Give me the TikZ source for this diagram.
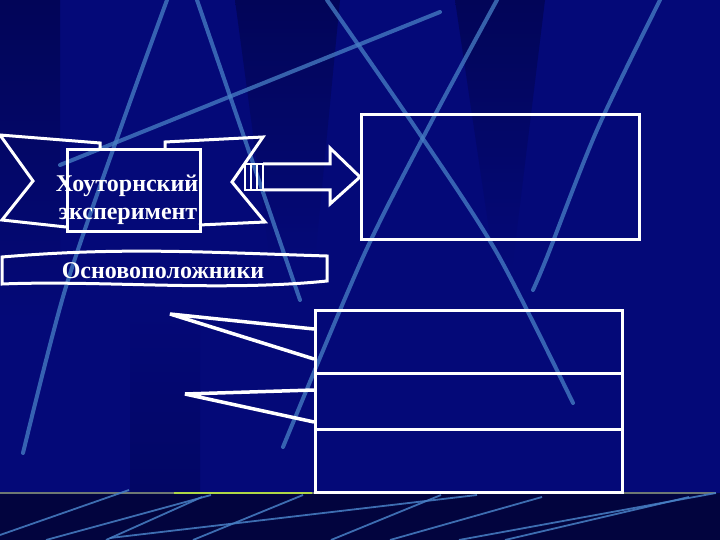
\documentclass[tikz,border=0pt]{standalone}
\usepackage{fontspec}
\setmainfont{Liberation Serif}
\usetikzlibrary{calc}
\definecolor{bgblue}{RGB}{4,9,120}
\definecolor{bgdark}{RGB}{2,5,88}
\definecolor{streak}{RGB}{72,128,198}
\definecolor{floorc}{RGB}{2,4,62}
\definecolor{floorline}{RGB}{110,120,115}
\definecolor{greenline}{RGB}{175,215,70}
\tikzset{
  wline/.style={draw=white, line width=3pt, line join=miter},
  calloutline/.style={draw=white, line width=3.5pt, line join=bevel},
  beam/.style={draw=streak, line width=4pt, opacity=0.75, line cap=round},
  floorbeam/.style={draw=streak, line width=1.8pt, opacity=0.85},
  wtext/.style={text=white, font=\bfseries\fontsize{24}{28}\selectfont, inner sep=0pt},
  framebox/.style={draw=white, line width=3pt, inner sep=0pt, anchor=north west},
}
\begin{document}
\begin{tikzpicture}[x=1pt,y=-1pt]
\useasboundingbox (0,0) rectangle (720,540);
% background
\fill[bgblue] (0,0) rectangle (720,540);
\shade[top color=bgdark, bottom color=bgblue] (0,0) rectangle (60,320);
\shade[top color=bgdark, bottom color=bgblue] (235,0) -- (340,0) -- (315,260) -- (270,260) -- cycle;
\shade[top color=bgdark, bottom color=bgblue] (455,0) -- (545,0) -- (512,270) -- (495,270) -- cycle;
\shade[top color=bgblue, bottom color=bgdark, opacity=0.6] (130,300) rectangle (200,492);
% beams
\draw[beam] plot[smooth] coordinates {(167,0) (120,130) (65,290) (23,453)};
\draw[beam] (197,0) -- (300,300);
\draw[beam] (440,12) -- (60,165);
\draw[beam] plot[smooth] coordinates {(327,0) (417,130) (497,253) (573,403)};
\draw[beam] plot[smooth] coordinates {(497,0) (427,130) (363,257) (283,447)};
\draw[beam] plot[smooth] coordinates {(660,0) (597,130) (547,257) (533,290)};
% floor
\fill[floorc] (0,493) rectangle (720,540);
\draw[floorline, line width=2pt] (0,493) -- (716,493);
\draw[greenline, line width=2pt] (174,493) -- (312,493);
\draw[floorbeam] (0,535) -- (129,490);
\draw[floorbeam] (46,540) -- (211,495);
\draw[floorbeam] (106,540) -- (202,497);
\draw[floorbeam] (193,540) -- (303,495);
\draw[floorbeam] (110,538) -- (477,495);
\draw[floorbeam] (331,540) -- (441,495);
\draw[floorbeam] (390,540) -- (542,497);
\draw[floorbeam] (459,540) -- (716,493);
\draw[floorbeam] (505,540) -- (689,497);
% ribbon "Хоуторнский эксперимент"
\draw[wline] (66,227) -- (2,220) -- (33,181) -- (0,135) -- (100,143) -- (100,148);
\draw[wline] (165,148) -- (165,142) -- (263,137) -- (232,182) -- (265,222) -- (199,225);
\node[framebox, minimum width=133pt, minimum height=82pt] (ribbon) at (66,148) {};
\node[wtext, anchor=base] (rt1) at (127,192) {Хоуторнский};
\node[wtext, anchor=base] (rt2) at (128,220) {эксперимент};
% top right box
\node[framebox, minimum width=278pt, minimum height=125pt] (toprect) at (360,113) {};
% block arrow
\coordinate (tip) at (toprect.west);
\draw[wline] ($(tip)+(-97,-13)$) -- ($(tip)+(-30,-13)$) -- ($(tip)+(-30,-29)$) -- (tip)
  -- ($(tip)+(-30,27)$) -- ($(tip)+(-30,13)$) -- ($(tip)+(-97,13)$);
\draw[draw=white, line width=2pt] ($(tip)+(-115,-13)$) rectangle ($(tip)+(-97,13)$);
\draw[draw=white, line width=2pt] ($(tip)+(-109,-13)$) -- ($(tip)+(-109,13)$);
\draw[draw=white, line width=2pt] ($(tip)+(-103,-13)$) -- ($(tip)+(-103,13)$);
% banner "Основоположники"
\draw[wline] (2,257) .. controls (120,247) and (200,252) .. (327,256) -- (327,281)
  .. controls (220,292) and (100,280) .. (2,284) -- cycle;
\node[wtext, anchor=base] (founders) at (163,278) {Основоположники};
% bottom boxes
\node[framebox, minimum width=307pt, minimum height=63pt] (b1) at (314,309) {};
\node[framebox, minimum width=307pt, minimum height=56pt] (b2) at (314,372) {};
\node[framebox, minimum width=307pt, minimum height=63pt] (b3) at (314,428) {};
% callouts
\coordinate (c1) at (170,314);
\coordinate (c2) at (185,394);
\draw[calloutline] ($(b1.north west)+(0,20)$) -- (c1) -- ($(b1.north west)+(0,50)$);
\draw[calloutline] ($(b2.north west)+(0,18)$) -- (c2) -- ($(b2.north west)+(0,50)$);
\end{tikzpicture}
\end{document}
